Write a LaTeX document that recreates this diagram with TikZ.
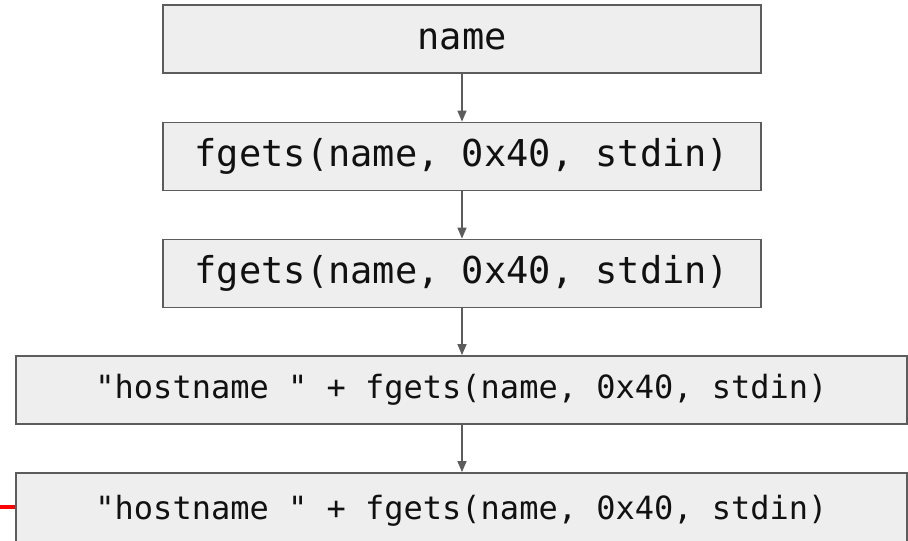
\documentclass[tikz,border=0pt]{standalone}
\usepackage{fontspec}
\setmonofont{DejaVu Sans Mono}
\usetikzlibrary{arrows.meta}
\definecolor{boxfill}{HTML}{EEEEEE}
\definecolor{boxline}{HTML}{5C5C5C}
\definecolor{txt}{HTML}{111111}
\tikzset{
  codebox/.style={draw=boxline, fill=boxfill, line width=1.8pt, inner sep=0pt,
    text=txt, font=\ttfamily\fontsize{37}{40}\selectfont, anchor=center},
  widebox/.style={codebox, font=\ttfamily\fontsize{32}{36}\selectfont},
  flow/.style={draw=boxline, line width=1.5pt, -{Triangle[width=9pt,length=11pt]}},
  marker/.style={draw=red, line width=3.2pt}
}
\begin{document}
\begin{tikzpicture}[x=1pt,y=-1pt]
  \useasboundingbox (0,0) rectangle (908,541);
  \clip (0,0) rectangle (908,541);
  \node[codebox, minimum width=598pt, minimum height=68pt] (n1) at (462,39) {name};
  \node[codebox, minimum width=598pt, minimum height=68pt] (n2) at (462,156.5) {fgets(name, 0x40, stdin)};
  \node[codebox, minimum width=598pt, minimum height=68pt] (n3) at (462,273.5) {fgets(name, 0x40, stdin)};
  \node[widebox, minimum width=891pt, minimum height=68pt] (n4) at (461.5,390) {"hostname " + fgets(name, 0x40, stdin)};
  % last box runs past the lower edge of the page
  \node[widebox, minimum width=891pt, minimum height=76pt] (n5) at (461.5,511) {\raisebox{4pt}{"hostname " + fgets(name, 0x40, stdin)}};
  \coordinate (lft) at (0,507);
  \draw[flow] (n1.south) -- (n2.north);
  \draw[flow] (n2.south) -- (n3.north);
  \draw[flow] (n3.south) -- (n3.south |- n4.north);
  \draw[flow] (n3.south |- n4.south) -- (n3.south |- n5.north);
  \draw[marker] (lft) -- (n5.west |- lft);
\end{tikzpicture}
\end{document}
